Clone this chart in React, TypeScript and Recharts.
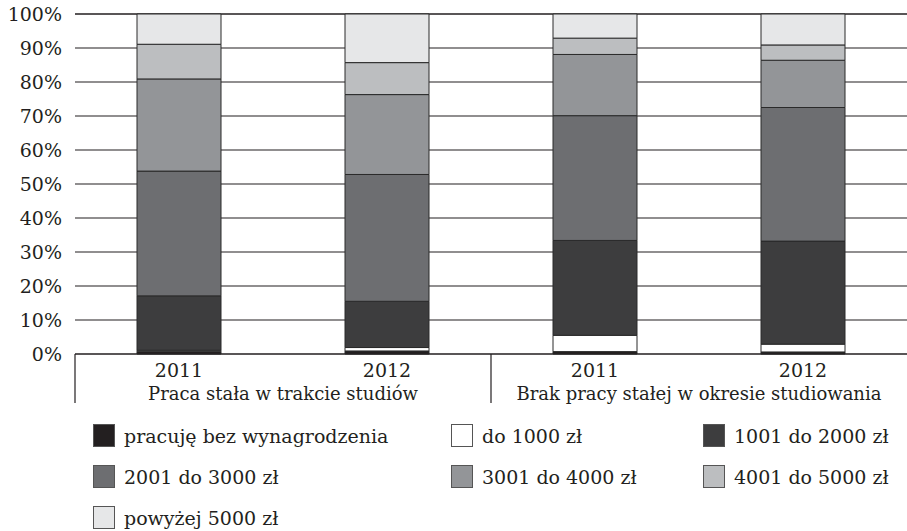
import React from 'react';
import { BarChart, Bar, XAxis, YAxis, CartesianGrid, Legend } from 'recharts';

// categories and groups
const years = ['2011', '2012', '2011', '2012'];
const groups = [
  'Praca stała w trakcie studiów',
  'Praca stała w trakcie studiów',
  'Brak pracy stałej w okresie studiowania',
  'Brak pracy stałej w okresie studiowania',
];

// series values (%)
const bezWynagrodzenia = [0.8, 0.9, 0.7, 0.6];
const do1000 = [0.3, 1.0, 4.8, 2.3];
const od1001do2000 = [16.0, 13.6, 27.9, 30.3];
const od2001do3000 = [36.7, 37.3, 36.7, 39.3];
const od3001do4000 = [27.1, 23.5, 18.0, 13.9];
const od4001do5000 = [10.2, 9.4, 4.8, 4.5];
const powyzej5000 = [8.9, 14.3, 7.1, 9.1];

const yTicks = [0, 10, 20, 30, 40, 50, 60, 70, 80, 90, 100];

const series = [
  { key: 'bez', name: 'pracuję bez wynagrodzenia', values: bezWynagrodzenia, color: '#231f20' },
  { key: 'd1000', name: 'do 1000 zł', values: do1000, color: '#ffffff' },
  { key: 'd2000', name: '1001 do 2000 zł', values: od1001do2000, color: '#3d3d3e' },
  { key: 'd3000', name: '2001 do 3000 zł', values: od2001do3000, color: '#6d6e71' },
  { key: 'd4000', name: '3001 do 4000 zł', values: od3001do4000, color: '#939598' },
  { key: 'd5000', name: '4001 do 5000 zł', values: od4001do5000, color: '#bcbec0' },
  { key: 'pow', name: 'powyżej 5000 zł', values: powyzej5000, color: '#e6e7e8' },
];

const data = years.map((year, i) => {
  const row: Record<string, any> = { id: `${groups[i]} ${year}`, year, group: groups[i] };
  series.forEach((s) => {
    row[s.key] = s.values[i];
  });
  return row;
});

const FONT = '"DejaVu Serif", serif';
const INK = '#231f20';

const CategoryTick = (props: any) => {
  const { x, y, index, width, visibleTicksCount } = props;
  const band = width / visibleTicksCount;
  const row = data[index];
  const top = y - 8;
  const first = index % 2 === 0;
  return (
    <g>
      <text x={x} y={y} dy={15} textAnchor="middle" fontFamily={FONT} fontSize={19} fill={INK}>
        {row.year}
      </text>
      {first && (
        <>
          <line x1={x - band / 2} y1={top} x2={x - band / 2} y2={top + 49} stroke={INK} strokeWidth={1.2} />
          <text x={x + band / 2} y={y} dy={38} textAnchor="middle" fontFamily={FONT} fontSize={18} fill={INK}>
            {row.group}
          </text>
        </>
      )}
    </g>
  );
};

const LegendContent = () => (
  <div
    style={{
      display: 'grid',
      gridTemplateColumns: '358px 252px 204px',
      gridAutoRows: '41px',
      paddingLeft: 93,
      fontFamily: FONT,
      fontSize: 19,
      color: INK,
      height: 116,
      boxSizing: 'border-box',
    }}
  >
    {series.map((s) => (
      <div key={s.key} style={{ display: 'flex', alignItems: 'center', whiteSpace: 'nowrap' }}>
        <span
          style={{
            display: 'inline-block',
            flexShrink: 0,
            width: 20,
            height: 21,
            background: s.color,
            border: '1px solid #555',
            marginRight: 9,
          }}
        />
        {s.name}
      </div>
    ))}
  </div>
);

export default function App() {
  return (
    <div style={{ position: 'absolute', left: 0, top: 0, width: 907, height: 531, background: '#fff' }}>
      <BarChart width={907} height={531} data={data} margin={{ top: 14, right: 0, left: 0, bottom: 11 }} barSize={84}>
        <CartesianGrid vertical={false} stroke={INK} strokeWidth={1.2} />
        <XAxis
          dataKey="id"
          interval={0}
          height={50}
          tickLine={false}
          axisLine={{ stroke: INK, strokeWidth: 1.2 }}
          tick={<CategoryTick />}
        />
        <YAxis
          type="number"
          domain={[0, 100]}
          ticks={yTicks}
          width={75}
          axisLine={false}
          tickLine={false}
          tickMargin={13}
          tickSize={0}
          tickFormatter={(v: number) => `${v}%`}
          tick={{ fontFamily: FONT, fontSize: 19, fill: INK }}
        />
        <Legend
          verticalAlign="bottom"
          content={<LegendContent />}
          wrapperStyle={{ top: 415, bottom: 'auto', left: 0, width: 907, height: 116 }}
        />
        {series.map((s) => (
          <Bar
            key={s.key}
            dataKey={s.key}
            name={s.name}
            stackId="a"
            fill={s.color}
            stroke="#2a2a2a"
            strokeWidth={1}
            isAnimationActive={false}
          />
        ))}
      </BarChart>
    </div>
  );
}
